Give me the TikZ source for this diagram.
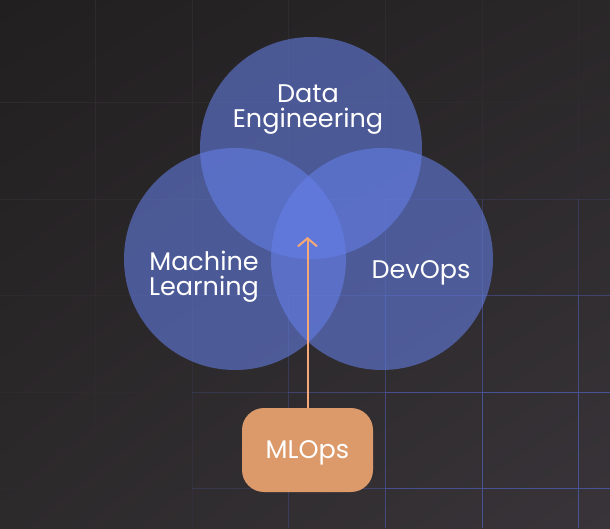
\documentclass[tikz,border=0pt]{standalone}
\usepackage{fontspec}
\setmainfont{Poppins}
\usetikzlibrary{arrows.meta,shadings}

\definecolor{bgtl}{HTML}{221F21}
\definecolor{bgbr}{HTML}{383439}
\definecolor{bgtr}{HTML}{2A2729}
\definecolor{bgbl}{HTML}{2D2A2C}
\definecolor{gridgrey}{HTML}{2E2B2E}
\definecolor{gridblue}{HTML}{4A5296}
\definecolor{vennblue}{HTML}{6580E9}
\definecolor{opsorange}{HTML}{DC9A6B}
\definecolor{arroworange}{HTML}{F6A878}

\begin{document}
\begin{tikzpicture}[
  x=1pt,y=-1pt,
  field/.style={circle, fill=vennblue, fill opacity=0.57, minimum size=222pt, inner sep=0pt},
  areatext/.style={text=white, font=\fontsize{25.5}{25}\selectfont, align=center, inner sep=0pt},
  opsbox/.style={draw=none, fill=opsorange, rounded corners=22pt, minimum width=131pt, minimum height=84pt,
                 text depth=0pt, text=white, font=\fontsize{25.5}{25}\selectfont},
  flow/.style={draw=arroworange, line width=2pt, -{Straight Barb[length=8pt,width=19pt,line width=2pt]}}
]
% background and grid
\useasboundingbox (0,0) rectangle (610,528);
\shade[upper left=bgtl, upper right=bgtr, lower left=bgbl, lower right=bgbr] (0,0) rectangle (610,528);
\foreach \gx in {95,192,288,385,482,578}
  \draw[gridgrey, line width=1pt] (\gx,0) -- (\gx,528);
\foreach \gy in {102,199,295,392,488}
  \draw[gridgrey, line width=1pt] (0,\gy) -- (610,\gy);
\foreach \gx in {95,192,288,385,482,578}
  \foreach \ya/\yb in {0/102,102/199,199/295,295/392,392/488,488/528}{
    \pgfmathsetmacro\op{max(0,min(1,(\gx-150)/300))*max(0,min(1,((\ya+\yb)/2-140)/250))}
    \draw[gridblue, line width=1pt, opacity=\op] (\gx,\ya) -- (\gx,\yb);
  }
\foreach \gy in {102,199,295,392,488}
  \foreach \xa/\xb in {0/95,95/192,192/288,288/385,385/482,482/578,578/610}{
    \pgfmathsetmacro\op{max(0,min(1,((\xa+\xb)/2-150)/300))*max(0,min(1,(\gy-140)/250))}
    \draw[gridblue, line width=1pt, opacity=\op] (\xa,\gy) -- (\xb,\gy);
  }

% the three fields
\node[field] (de)  at (311,148) {};
\node[field] (ml)  at (235,259) {};
\node[field] (dev) at (382,259) {};

\node[areatext] (detext)  at (308,110) {Data\\Engineering};
\node[areatext] (mltext)  at (204,277) {Machine\\Learning};
\node[areatext] (devtext) at (421,273) {DevOps};

% MLOps in the middle
\node[opsbox] (mlops) at (307.5,450) {MLOps};
\coordinate (core) at (307.5,237);
\draw[flow] (mlops.north) -- (core);
\end{tikzpicture}
\end{document}
